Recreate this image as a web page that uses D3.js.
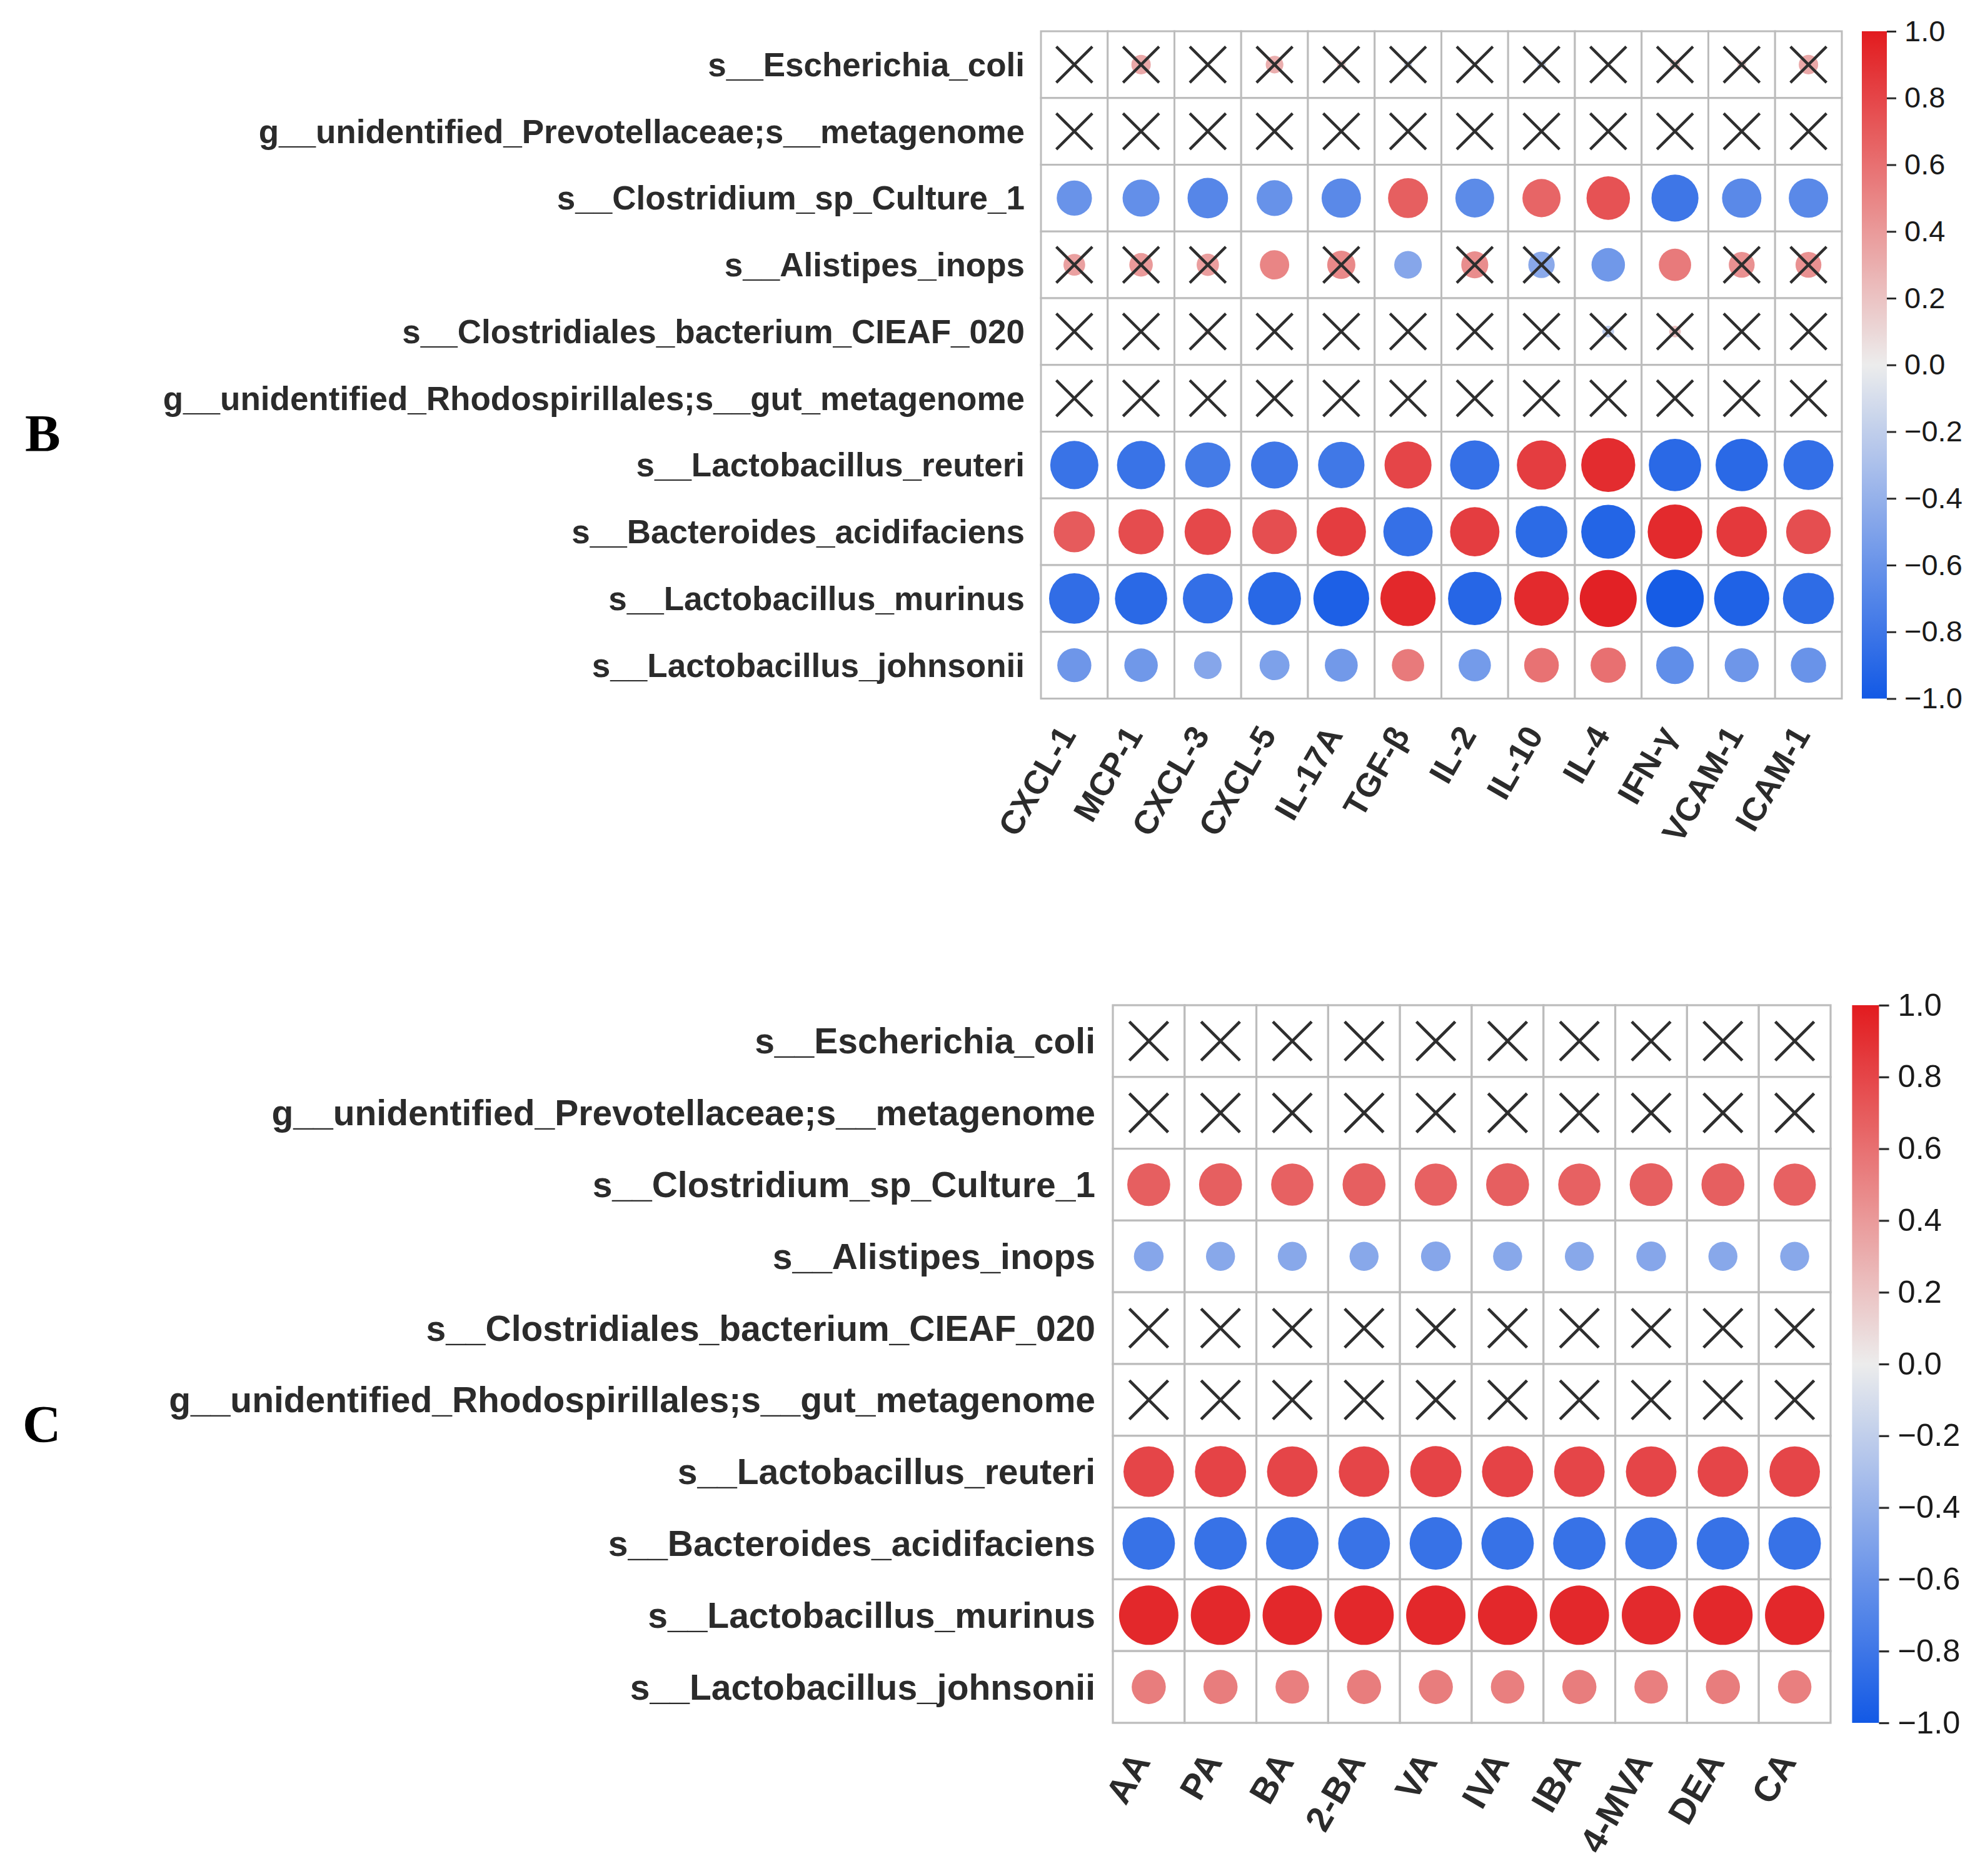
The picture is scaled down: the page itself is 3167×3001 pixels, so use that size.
<!DOCTYPE html>
<html>
<head>
<meta charset="utf-8">
<script src="https://cdn.jsdelivr.net/npm/d3@7"></script>
<style>
  body { margin: 0; background: #fff; }
  text { font-family: "Liberation Sans", Arial, sans-serif; fill: #2b2b2b; }
</style>
</head>
<body>
<svg id="fig"></svg>
<script>
// taxa shared by both panels (top to bottom)
const taxa = [
    's__Escherichia_coli',
    'g__unidentified_Prevotellaceae;s__metagenome',
    's__Clostridium_sp_Culture_1',
    's__Alistipes_inops',
    's__Clostridiales_bacterium_CIEAF_020',
    'g__unidentified_Rhodospirillales;s__gut_metagenome',
    's__Lactobacillus_reuteri',
    's__Bacteroides_acidifaciens',
    's__Lactobacillus_murinus',
    's__Lactobacillus_johnsonii'
];

// panel B: cytokines
const cytokines = ['CXCL-1', 'MCP-1', 'CXCL-3', 'CXCL-5', 'IL-17A', 'TGF-β', 'IL-2', 'IL-10', 'IL-4', 'IFN-γ', 'VCAM-1', 'ICAM-1'];
const cytokineR = [
    [0.04, 0.33, 0.03, 0.30, 0.15, -0.14, 0.03, -0.15, 0.04, 0.17, 0.15, 0.33],
    [0.02, -0.03, 0.02, 0.03, -0.02, 0.03, -0.02, 0.02, -0.03, 0.02, 0.03, -0.02],
    [-0.60, -0.63, -0.69, -0.61, -0.67, 0.68, -0.66, 0.65, 0.74, -0.80, -0.67, -0.67],
    [0.37, 0.40, 0.38, 0.50, 0.48, -0.47, 0.46, -0.45, -0.57, 0.55, 0.44, 0.44],
    [0.03, 0.02, 0.12, 0.03, 0.02, -0.03, 0.02, 0.03, -0.20, 0.20, 0.02, -0.02],
    [0.02, 0.03, -0.02, 0.02, 0.03, -0.02, 0.02, -0.03, 0.02, 0.03, -0.02, 0.02],
    [-0.82, -0.82, -0.77, -0.80, -0.79, 0.80, -0.84, 0.84, 0.92, -0.89, -0.89, -0.85],
    [0.70, 0.77, 0.79, 0.76, 0.84, -0.84, 0.84, -0.88, -0.92, 0.93, 0.86, 0.76],
    [-0.86, -0.89, -0.85, -0.90, -0.95, 0.94, -0.91, 0.93, 0.97, -0.98, -0.94, -0.87],
    [-0.58, -0.57, -0.47, -0.51, -0.56, 0.55, -0.55, 0.59, 0.60, -0.64, -0.58, -0.60]
];
// 1 = not significant (crossed out)
const cytokineNS = [
    [1, 1, 1, 1, 1, 1, 1, 1, 1, 1, 1, 1],
    [1, 1, 1, 1, 1, 1, 1, 1, 1, 1, 1, 1],
    [0, 0, 0, 0, 0, 0, 0, 0, 0, 0, 0, 0],
    [1, 1, 1, 0, 1, 0, 1, 1, 0, 0, 1, 1],
    [1, 1, 1, 1, 1, 1, 1, 1, 1, 1, 1, 1],
    [1, 1, 1, 1, 1, 1, 1, 1, 1, 1, 1, 1],
    [0, 0, 0, 0, 0, 0, 0, 0, 0, 0, 0, 0],
    [0, 0, 0, 0, 0, 0, 0, 0, 0, 0, 0, 0],
    [0, 0, 0, 0, 0, 0, 0, 0, 0, 0, 0, 0],
    [0, 0, 0, 0, 0, 0, 0, 0, 0, 0, 0, 0]
];

// panel C: short chain fatty acids
const acids = ['AA', 'PA', 'BA', '2-BA', 'VA', 'IVA', 'IBA', '4-MVA', 'DEA', 'CA'];
const acidR = [
    [-0.08, -0.07, -0.06, -0.07, -0.08, -0.07, -0.06, -0.05, -0.07, -0.07],
    [0.02, 0.02, 0.02, 0.02, 0.02, 0.02, 0.02, 0.02, 0.02, 0.02],
    [0.68, 0.68, 0.67, 0.68, 0.67, 0.68, 0.67, 0.68, 0.68, 0.67],
    [-0.47, -0.46, -0.46, -0.46, -0.47, -0.46, -0.46, -0.47, -0.46, -0.46],
    [0.02, 0.02, 0.02, 0.02, 0.02, 0.02, 0.02, 0.02, 0.02, 0.02],
    [-0.02, -0.02, -0.02, -0.02, -0.02, -0.02, -0.02, -0.02, -0.02, -0.02],
    [0.80, 0.81, 0.80, 0.80, 0.81, 0.81, 0.80, 0.80, 0.80, 0.80],
    [-0.83, -0.83, -0.83, -0.82, -0.83, -0.83, -0.83, -0.82, -0.83, -0.83],
    [0.94, 0.94, 0.94, 0.94, 0.94, 0.94, 0.94, 0.93, 0.94, 0.94],
    [0.54, 0.54, 0.53, 0.54, 0.54, 0.53, 0.54, 0.53, 0.54, 0.53]
];
const acidNS = [
    [1, 1, 1, 1, 1, 1, 1, 1, 1, 1],
    [1, 1, 1, 1, 1, 1, 1, 1, 1, 1],
    [0, 0, 0, 0, 0, 0, 0, 0, 0, 0],
    [0, 0, 0, 0, 0, 0, 0, 0, 0, 0],
    [1, 1, 1, 1, 1, 1, 1, 1, 1, 1],
    [1, 1, 1, 1, 1, 1, 1, 1, 1, 1],
    [0, 0, 0, 0, 0, 0, 0, 0, 0, 0],
    [0, 0, 0, 0, 0, 0, 0, 0, 0, 0],
    [0, 0, 0, 0, 0, 0, 0, 0, 0, 0],
    [0, 0, 0, 0, 0, 0, 0, 0, 0, 0]
];

const cbarTicks = [-1, -0.8, -0.6, -0.4, -0.2, 0, 0.2, 0.4, 0.6, 0.8, 1];

const W = 3167, H = 3001;
const svg = d3.select('#fig').attr('width', W).attr('height', H);

const color = d3.scaleLinear()
    .domain([-1, -0.5, 0, 0.5, 1])
    .range(['#1259e5', '#7fa2ea', '#ececec', '#e98585', '#e21b1f']);

function drawPanel(p) {
    const s = p.scale;  // relative size of this panel
    const cell = p.cell;
    const g = svg.append('g').attr('class', 'panel-' + p.letter);

    const x = d3.scaleBand().domain(p.cols).range([p.left, p.left + cell * p.cols.length]);
    const y = d3.scaleBand().domain(taxa).range([p.top, p.top + cell * taxa.length]);
    const rad = d3.scaleLinear().domain([0, 1]).range([0, cell * 0.44]);

    let cells = [];
    taxa.forEach((t, i) => {
        p.cols.forEach((c, j) => {
            cells.push({ row: t, col: c, r: p.values[i][j], ns: p.ns[i][j] });
        });
    });

    // grid
    g.append('g').selectAll('rect')
        .data(cells)
        .join('rect')
        .attr('x', d => x(d.col))
        .attr('y', d => y(d.row))
        .attr('width', x.bandwidth())
        .attr('height', y.bandwidth())
        .attr('fill', '#fff')
        .attr('stroke', '#bcbcbc')
        .attr('stroke-width', 3 * s);

    // circles
    g.append('g').selectAll('circle')
        .data(cells)
        .join('circle')
        .attr('cx', d => x(d.col) + x.bandwidth() / 2)
        .attr('cy', d => y(d.row) + y.bandwidth() / 2)
        .attr('r', d => rad(Math.abs(d.r)))
        .attr('fill', d => color(d.r));

    // crosses for non significant cells
    const h = cell * 0.27;
    g.append('g').selectAll('path')
        .data(cells.filter(d => d.ns))
        .join('path')
        .attr('d', d => {
            let cx = x(d.col) + x.bandwidth() / 2;
            let cy = y(d.row) + y.bandwidth() / 2;
            return 'M' + (cx - h) + ',' + (cy - h) + 'L' + (cx + h) + ',' + (cy + h) +
                'M' + (cx + h) + ',' + (cy - h) + 'L' + (cx - h) + ',' + (cy + h);
        })
        .attr('stroke', '#2e2e2e')
        .attr('stroke-width', 4.5 * s)
        .attr('fill', 'none');

    // row labels
    g.append('g').selectAll('text')
        .data(taxa)
        .join('text')
        .attr('x', p.left - 26 * s)
        .attr('y', d => y(d) + y.bandwidth() / 2)
        .attr('dy', '0.35em')
        .attr('text-anchor', 'end')
        .attr('font-weight', 'bold')
        .attr('font-size', 53 * s)
        .text(d => d);

    // column labels, rotated
    const bottom = p.top + cell * taxa.length;
    g.append('g').selectAll('text')
        .data(p.cols)
        .join('text')
        .attr('transform', d => 'translate(' + (x(d) + x.bandwidth() / 2 + 4 * s) + ',' + (bottom + 58 * s) + ') rotate(-60)')
        .attr('text-anchor', 'end')
        .attr('font-weight', 'bold')
        .attr('font-size', 53 * s)
        .text(d => d);

    // colour bar
    const cbX = p.left + cell * p.cols.length + 32 * s;
    const cbW = 40 * s;
    const gradId = 'grad' + p.letter;
    const grad = svg.append('defs').append('linearGradient')
        .attr('id', gradId)
        .attr('x1', 0).attr('y1', 1).attr('x2', 0).attr('y2', 0);
    grad.selectAll('stop')
        .data(d3.range(0, 41))
        .join('stop')
        .attr('offset', d => d / 40)
        .attr('stop-color', d => color(-1 + d / 20));
    g.append('rect')
        .attr('x', cbX)
        .attr('y', p.top)
        .attr('width', cbW)
        .attr('height', bottom - p.top)
        .attr('fill', 'url(#' + gradId + ')');

    const cbScale = d3.scaleLinear().domain([-1, 1]).range([bottom, p.top]);
    const axis = g.append('g')
        .attr('transform', 'translate(' + (cbX + cbW) + ',0)')
        .call(d3.axisRight(cbScale).tickValues(cbarTicks).tickFormat(d3.format('.1f'))
            .tickSize(15 * s).tickPadding(13 * s));
    axis.select('.domain').remove();
    axis.selectAll('line').attr('stroke', '#2b2b2b').attr('stroke-width', 3 * s);
    axis.selectAll('text')
        .attr('font-size', 47 * s)
        .style('fill', '#1a1a1a');

    // panel letter (serif, so set as style to beat the css rule)
    svg.append('text')
        .attr('x', p.letterX)
        .attr('y', p.letterY)
        .style('font-family', '"Liberation Serif", "Times New Roman", serif')
        .attr('font-weight', 'bold')
        .attr('font-size', 85)
        .style('fill', '#000')
        .text(p.letter);
}

drawPanel({
    letter: 'B', cols: cytokines, values: cytokineR, ns: cytokineNS,
    left: 1665, top: 50, cell: 106.75, scale: 1, letterX: 40, letterY: 722
});
drawPanel({
    letter: 'C', cols: acids, values: acidR, ns: acidNS,
    left: 1780, top: 1608, cell: 114.8, scale: 114.8 / 106.75, letterX: 36, letterY: 2307
});
</script>
</body>
</html>
